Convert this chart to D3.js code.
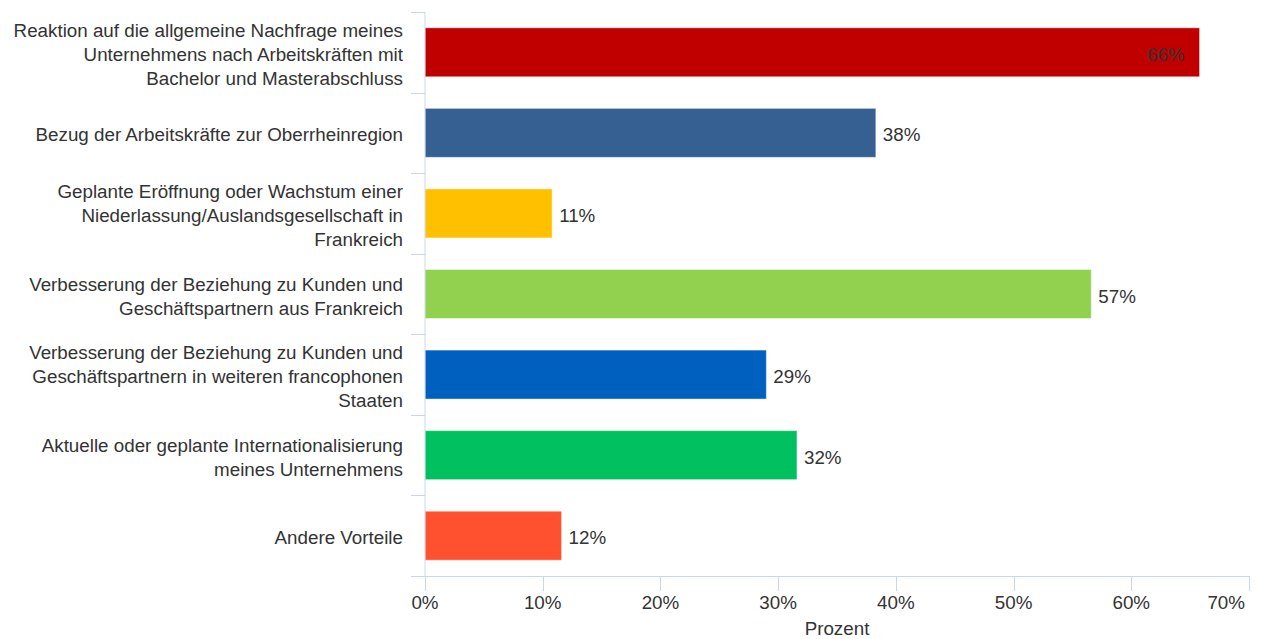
<!DOCTYPE html>
<html>
<head>
<meta charset="utf-8">
<script src="https://cdn.jsdelivr.net/npm/d3@7"></script>
<style>
  html, body { margin: 0; padding: 0; background: #fff; }
  svg { display: block; font-family: "Liberation Sans", Arial, sans-serif; }
</style>
</head>
<body>
<svg id="chart" width="1263" height="639"></svg>
<script>
// Vorteile (Anteil der Nennungen in Prozent)
const categories = [
  ["Reaktion auf die allgemeine Nachfrage meines", "Unternehmens nach Arbeitskräften mit", "Bachelor und Masterabschluss"],
  ["Bezug der Arbeitskräfte zur Oberrheinregion"],
  ["Geplante Eröffnung oder Wachstum einer", "Niederlassung/Auslandsgesellschaft in", "Frankreich"],
  ["Verbesserung der Beziehung zu Kunden und", "Geschäftspartnern aus Frankreich"],
  ["Verbesserung der Beziehung zu Kunden und", "Geschäftspartnern in weiteren francophonen", "Staaten"],
  ["Aktuelle oder geplante Internationalisierung", "meines Unternehmens"],
  ["Andere Vorteile"]
];
const values = [65.8, 38.3, 10.8, 56.6, 29.0, 31.6, 11.6];
const barColors = ["#c00000", "#366092", "#ffc000", "#92d050", "#0060c0", "#00c060", "#ff5030"];
const xTicks = [0, 10, 20, 30, 40, 50, 60, 70];
const xTitle = "Prozent";

const svg = d3.select("#chart");
const plot = { left: 425, right: 1249, top: 12, bottom: 576 };
const axisColor = "#ccd6eb";
const textColor = "#333333";
const fontSize = 18.8;

const ids = d3.range(categories.length);

const x = d3.scaleLinear().domain([0, 70]).range([plot.left, plot.right]);
const y = d3.scaleBand().domain(ids).range([plot.top, plot.bottom])
  .paddingInner(0.392).paddingOuter(0.196);
const yOuter = d3.scaleBand().domain(ids).range([plot.top, plot.bottom]);

// bars
svg.append("g").selectAll("rect")
  .data(ids)
  .join("rect")
  .attr("x", x(0))
  .attr("y", i => y(i))
  .attr("width", i => x(values[i]) - x(0))
  .attr("height", y.bandwidth())
  .attr("fill", i => barColors[i])
  .attr("stroke", "#ffffff")
  .attr("stroke-opacity", 0.45)
  .attr("stroke-width", 1);

// value labels (inside the bar when it would run past the plot)
const fmt = v => Math.round(v) + "%";
svg.append("g").selectAll("text")
  .data(ids)
  .join("text")
  .attr("x", i => values[i] > 62 ? x(values[i]) - 15 : x(values[i]) + 7)
  .attr("y", i => y(i) + y.bandwidth() / 2 + 8.5)
  .attr("text-anchor", i => values[i] > 62 ? "end" : "start")
  .attr("font-size", fontSize)
  .attr("fill", textColor)
  .text(i => fmt(values[i]));

// category axis
const gy = svg.append("g");
gy.append("line")
  .attr("x1", plot.left).attr("x2", plot.left)
  .attr("y1", plot.top).attr("y2", plot.bottom)
  .attr("stroke", axisColor).attr("stroke-width", 1);
const boundaries = ids.map(i => yOuter(i));
gy.selectAll("line.tick")
  .data(boundaries)
  .join("line")
  .attr("class", "tick")
  .attr("x1", plot.left - 14).attr("x2", plot.left)
  .attr("y1", d => Math.round(d) + 0.5).attr("y2", d => Math.round(d) + 0.5)
  .attr("stroke", axisColor).attr("stroke-width", 1);

const lineH = 24;
gy.selectAll("text")
  .data(ids)
  .join("text")
  .attr("text-anchor", "end")
  .attr("font-size", fontSize)
  .attr("fill", textColor)
  .each(function (i) {
    const lines = categories[i];
    const cy = yOuter(i) + yOuter.bandwidth() / 2;
    const base = cy + 8.5 - (lines.length - 1) * lineH / 2;
    d3.select(this).selectAll("tspan")
      .data(lines)
      .join("tspan")
      .attr("x", 403)
      .attr("y", (d, k) => base + k * lineH)
      .text(d => d);
  });

// value axis
const gx = svg.append("g");
gx.append("line")
  .attr("x1", plot.left - 14).attr("x2", plot.right + 1)
  .attr("y1", plot.bottom + 0.5).attr("y2", plot.bottom + 0.5)
  .attr("stroke", axisColor).attr("stroke-width", 1);
gx.selectAll("line.tick")
  .data(xTicks)
  .join("line")
  .attr("class", "tick")
  .attr("x1", d => Math.round(x(d)) + 0.5).attr("x2", d => Math.round(x(d)) + 0.5)
  .attr("y1", plot.bottom).attr("y2", plot.bottom + 15)
  .attr("stroke", axisColor).attr("stroke-width", 1);
const last = xTicks[xTicks.length - 1];
gx.selectAll("text")
  .data(xTicks)
  .join("text")
  .attr("x", d => d === last ? x(d) - 4 : x(d))
  .attr("y", 609)
  .attr("text-anchor", d => d === last ? "end" : "middle")
  .attr("font-size", fontSize)
  .attr("fill", textColor)
  .text(d => d + "%");

svg.append("text")
  .attr("x", (plot.left + plot.right) / 2)
  .attr("y", 635)
  .attr("text-anchor", "middle")
  .attr("font-size", fontSize)
  .attr("fill", textColor)
  .text(xTitle);
</script>
</body>
</html>
